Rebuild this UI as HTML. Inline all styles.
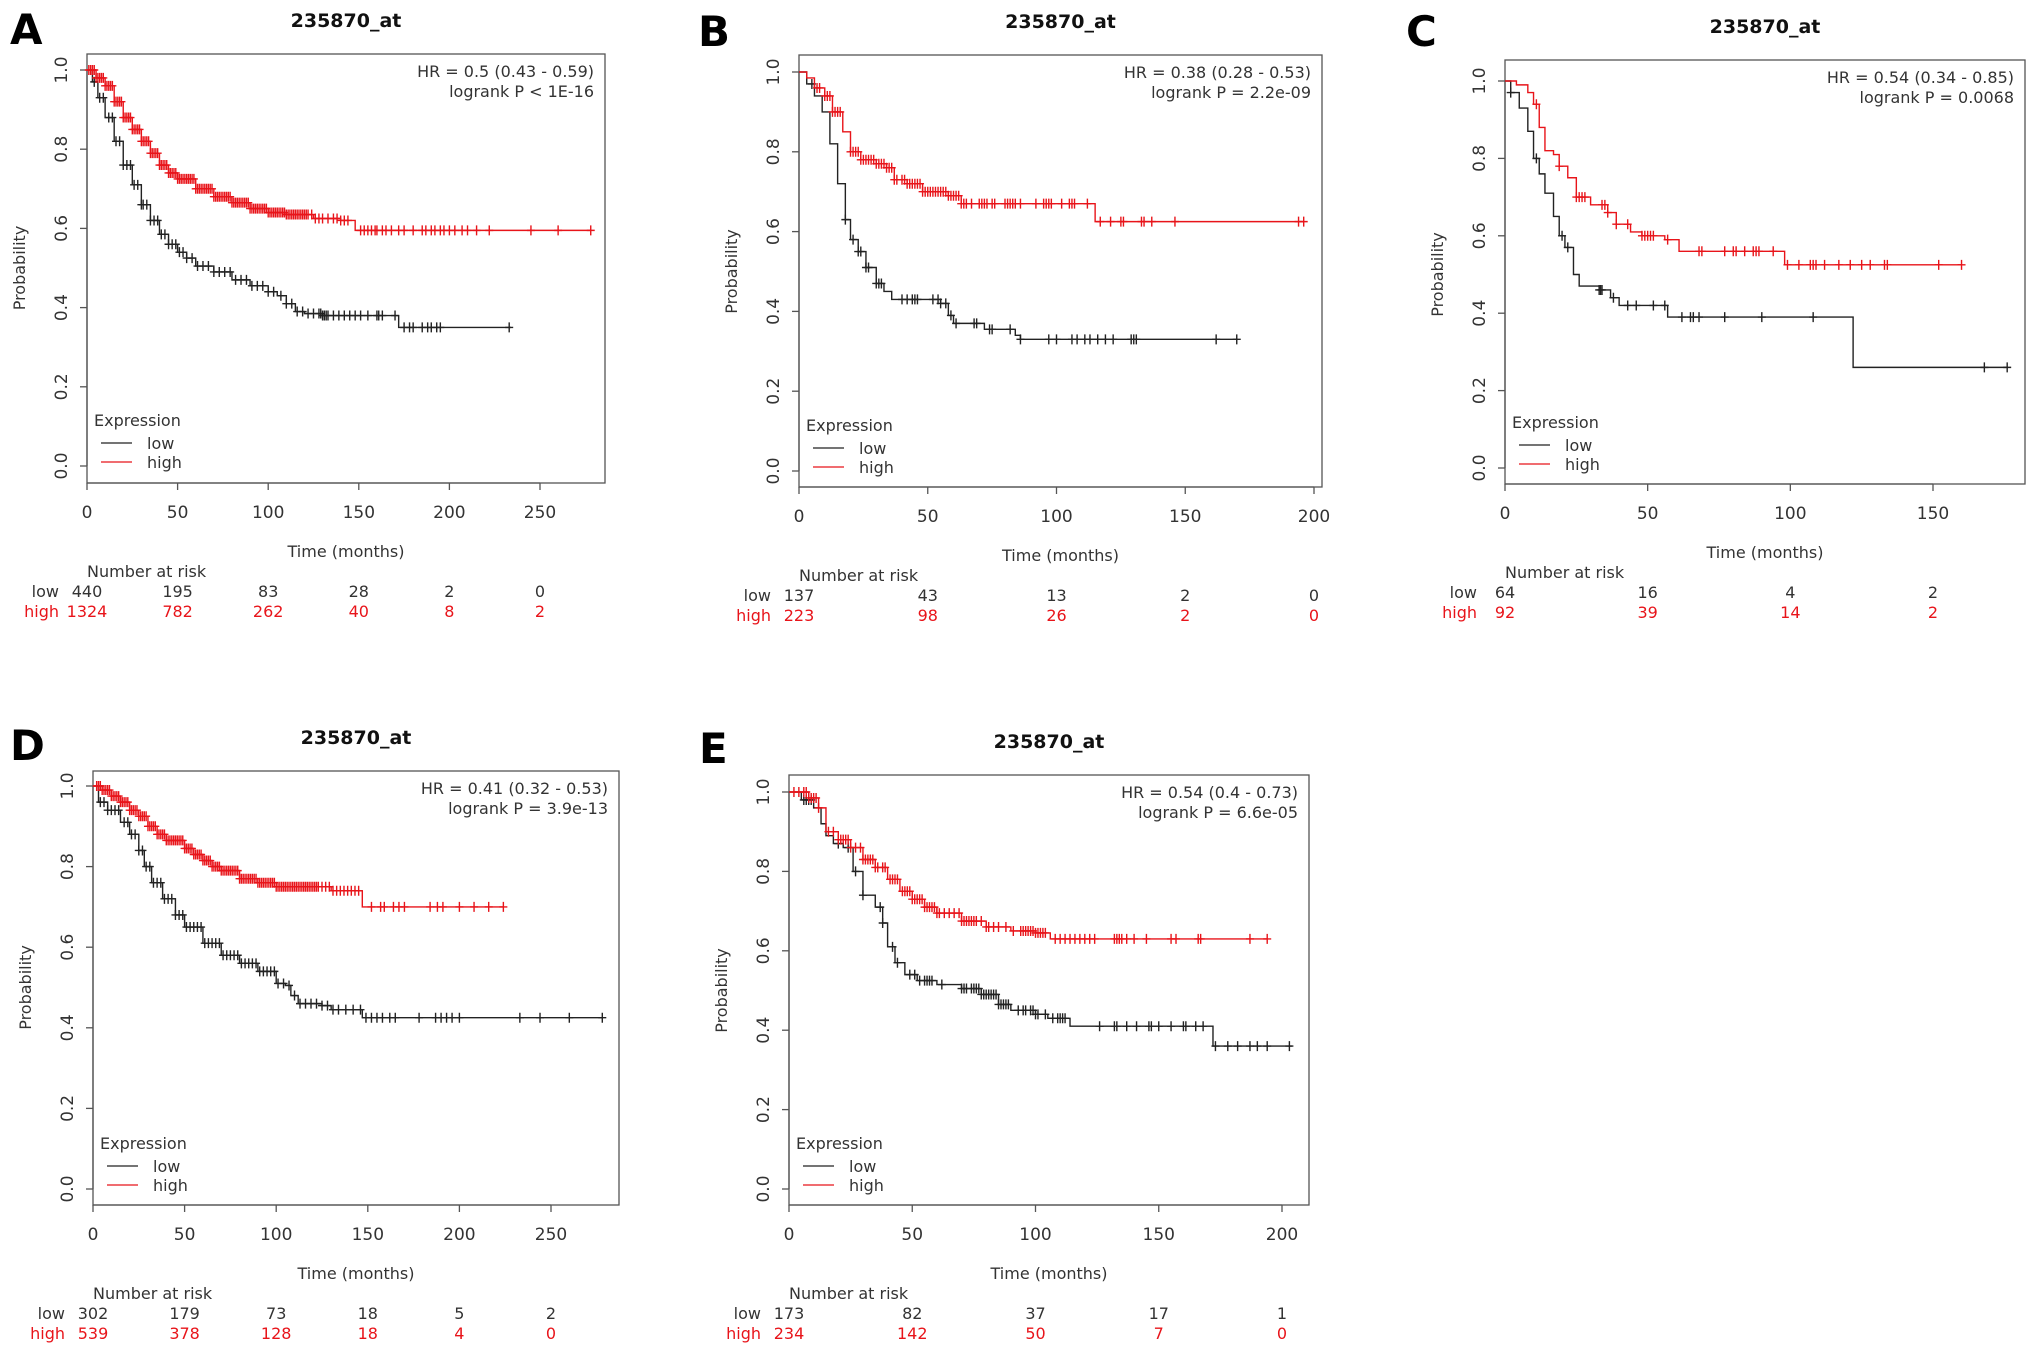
<!DOCTYPE html>
<html><head><meta charset="utf-8">
<style>
html,body{margin:0;padding:0;background:#fff;}
svg text{font-family:"DejaVu Sans","Liberation Sans",sans-serif;}
</style></head>
<body>
<svg id="fig" xmlns="http://www.w3.org/2000/svg" width="2031" height="1363" viewBox="0 0 2031 1363"></svg>
<script>
// ---------- Panel A data ----------
const aTicks = [0,50,100,150,200,250];
const aLowT = [0,3,6,10,15,20,25,30,35,40,45,50,55,60,70,80,90,100,105,110,115,120,130,172];
const aLowS = [1,0.97,0.93,0.88,0.82,0.76,0.71,0.66,0.62,0.585,0.56,0.54,0.525,0.505,0.49,0.47,0.455,0.44,0.43,0.41,0.39,0.385,0.38,0.35];
const aLowEnd = 234;
const aLowC = [4,7,9,12,14,16,18,20,22,24,26,28,30,31,33,35,37,39,41,43,45,47,49,51,53,55,58,61,64,67,70,73,76,79,82,85,88,91,94,97,100,103,107,110,113,116,119,122,125,128,129,130,131,132,133,136,139,142,145,148,151,155,160,161,163,170,175,178,180,185,188,190,193,195,233];
const aHighT = [0,5,10,15,20,25,30,35,40,45,50,60,70,80,90,100,110,125,140,148];
const aHighS = [1,0.98,0.96,0.92,0.88,0.85,0.82,0.79,0.76,0.74,0.725,0.70,0.68,0.665,0.65,0.64,0.635,0.625,0.62,0.595];
const aHighEnd = 278;
const aHighC = [1,2,3,4,5,6,7,8,9,10,11,12,13,14,15,16,17,18,19,20,21,22,23,24,25,26,27,28,29,30,31,32,33,34,35,36,37,38,39,40,41,42,43,44,45,46,47,48,49,50,51,52,53,54,55,56,57,58,59,60,61,62,63,64,65,66,67,68,69,70,71,72,73,74,75,76,77,78,79,80,81,82,83,84,85,86,87,88,89,90,91,92,93,94,95,96,97,98,99,100,101,102,103,104,105,106,107,108,109,110,111,112,113,114,115,116,117,118,119,120,121,122,124,126,128,130,133,136,138,140,142,144,151,153,155,157,159,160,163,165,168,172,175,180,185,187,190,192,195,197,200,203,207,210,215,222,245,260,278];
const aLowRisk = ["440","195","83","28","2","0"];
const aHighRisk = ["1324","782","262","40","8","2"];

// ---------- Panel B data ----------
const bTicks = [0,50,100,150,200];
const bLowT = [0,3,6,9,12,15,18,20,23,26,30,33,36,55,58,60,72,84,86];
const bLowS = [1,0.97,0.94,0.9,0.82,0.72,0.63,0.58,0.55,0.51,0.47,0.45,0.43,0.42,0.39,0.37,0.355,0.34,0.33];
const bLowEnd = 170;
const bLowC = [5,18,21,23,24,26,27,30,31,32,40,42,44,45,46,52,54,55,57,59,61,68,69,74,75,82,86,97,100,106,108,111,113,116,119,122,129,130,131,162,170];
const bHighT = [0,3,6,10,13,17,20,24,30,34,37,42,48,58,63,115];
const bHighS = [1,0.985,0.96,0.94,0.9,0.85,0.8,0.78,0.77,0.76,0.73,0.72,0.70,0.69,0.67,0.625];
const bHighEnd = 196;
const bHighC = [7,8,10,11,12,13,14,15,16,20,21,22,23,24,25,26,27,28,29,30,31,32,33,34,35,36,37,38,40,41,42,43,44,45,46,47,48,49,50,51,52,53,54,55,56,57,58,59,60,61,62,63,64,65,67,70,71,72,73,75,76,80,81,82,83,84,86,92,95,96,97,98,102,105,106,107,112,117,121,125,126,133,134,137,146,194,196];
const bLowRisk = ["137","43","13","2","0"];
const bHighRisk = ["223","98","26","2","0"];

// ---------- Panel C data ----------
const cTicks = [0,50,100,150];
const cLowT = [0,2,5,8,10,12,14,17,19,21,24,26,33,37,40,57,122];
const cLowS = [1,0.97,0.93,0.87,0.8,0.76,0.71,0.65,0.6,0.57,0.5,0.47,0.46,0.44,0.42,0.39,0.26];
const cLowEnd = 176;
const cLowC = [2,11,20,22,33,33.5,34,38,43,46,52,56,62,65,66,68,77,90,108,168,176];
const cHighT = [0,4,8,10,12,14,17,19,22,25,30,36,39,44,48,56,61,98];
const cHighS = [1,0.99,0.97,0.94,0.88,0.82,0.81,0.78,0.75,0.70,0.68,0.66,0.63,0.61,0.6,0.59,0.56,0.525];
const cHighEnd = 160;
const cHighC = [11,19,25,26,27,28,34,35,36,39,43,48,49,50,51,52,57,68,69,77,80,81,84,87,88,89,94,99,103,107,108,109,112,117,121,125,128,133,134,152,160];
const cLowRisk = ["64","16","4","2"];
const cHighRisk = ["92","39","14","2"];

// ---------- Panel D data ----------
const dTicks = [0,50,100,150,200,250];
const dLowT = [0,3,8,15,20,25,28,32,38,45,50,60,70,80,90,100,105,108,112,125,130,147];
const dLowS = [1,0.96,0.94,0.91,0.88,0.84,0.8,0.76,0.72,0.68,0.65,0.61,0.58,0.56,0.54,0.51,0.505,0.48,0.46,0.455,0.445,0.425];
const dLowEnd = 278;
const dLowC = [4,6,8,10,12,14,17,19,21,23,25,27,29,31,33,35,37,39,41,43,45,47,49,51,53,55,57,59,61,63,65,67,69,71,73,75,77,79,81,83,85,87,89,91,93,95,97,99,101,104,107,110,113,116,119,122,125,128,131,134,138,142,146,149,152,155,158,162,165,178,187,190,193,196,200,233,244,260,278];
const dHighT = [0,5,10,15,20,25,30,35,40,50,55,60,65,70,80,90,100,130,147];
const dHighS = [1,0.99,0.975,0.96,0.94,0.925,0.9,0.88,0.865,0.845,0.83,0.815,0.80,0.79,0.77,0.76,0.75,0.74,0.70];
const dHighEnd = 224;
const dHighC = [2,3,4,5,6,7,8,9,10,11,12,13,14,15,16,17,18,19,20,21,22,23,24,25,26,27,28,29,30,31,32,33,34,35,36,37,38,39,40,41,42,43,44,45,46,47,48,49,50,51,52,53,54,55,56,57,58,59,60,61,62,63,64,65,66,67,68,69,70,71,72,73,74,75,76,77,78,79,80,81,82,83,84,85,86,87,88,89,90,91,92,93,94,95,96,97,98,99,100,101,102,103,104,105,106,107,108,109,110,111,112,113,114,115,116,117,118,119,120,121,122,123,125,127,129,131,133,135,137,139,141,143,145,152,157,159,164,167,170,184,188,191,200,208,216,224];
const dLowRisk = ["302","179","73","18","5","2"];
const dHighRisk = ["539","378","128","18","4","0"];

// ---------- Panel E data ----------
const eTicks = [0,50,100,150,200];
const eLowT = [0,5,10,13,15,18,22,26,30,35,38,40,43,47,52,60,70,78,85,90,100,105,114,172];
const eLowS = [1,0.98,0.96,0.92,0.89,0.87,0.86,0.8,0.74,0.71,0.67,0.61,0.57,0.54,0.525,0.515,0.505,0.49,0.465,0.45,0.44,0.43,0.41,0.36];
const eLowEnd = 204;
const eLowC = [6,7,8,9,20,24,27,30,37,38,42,44,49,51,53,55,56,57,58,62,70,71,72,74,75,76,77,78,79,80,81,82,83,84,85,86,87,88,89,93,95,96,98,99,100,101,104,107,109,110,111,112,126,132,133,137,141,146,147,150,155,160,161,165,168,173,178,182,187,190,194,203];
const eHighT = [0,8,12,15,20,25,30,35,40,45,50,55,60,70,80,90,100,106];
const eHighS = [1,0.985,0.96,0.9,0.88,0.86,0.83,0.81,0.78,0.75,0.73,0.71,0.695,0.675,0.66,0.65,0.645,0.63];
const eHighEnd = 194;
const eHighC = [2,4,6,7,8,9,10,11,12,16,18,20,21,22,23,24,25,27,29,30,31,32,33,34,35,36,38,39,41,42,43,44,46,47,48,49,50,51,52,53,54,55,56,57,58,59,60,61,63,65,67,69,70,71,72,73,74,75,76,78,80,81,83,85,88,91,94,95,96,97,98,99,100,101,102,103,104,108,110,112,114,116,118,120,122,124,132,133,134,135,137,140,145,155,157,166,167,187,194];
const eLowRisk = ["173","82","37","17","1"];
const eHighRisk = ["234","142","50","7","0"];

const NS = "http://www.w3.org/2000/svg";
const svg = document.getElementById("fig");
const RED = "#e8141a", BLK = "#222";

function mk(tag, attrs, parent){
  const e = document.createElementNS(NS, tag);
  for (const k in attrs) e.setAttribute(k, attrs[k]);
  (parent||svg).appendChild(e);
  return e;
}
function txt(s, x, y, attrs, parent){
  const t = mk("text", Object.assign({x:x, y:y}, attrs), parent);
  t.textContent = s;
  return t;
}
function survAt(T, S, t){
  let v = S[0];
  for (let i=0;i<T.length;i++){ if (T[i] <= t) v = S[i]; }
  return v;
}

function panel(cfg){
  const g = mk("g", {});
  
  
  const xMax = cfg.ticks[cfg.ticks.length-1];
  const X = t => cfg.x0 + (t / xMax) * (cfg.xEnd - cfg.x0);
  const Y = s => cfg.y0 - s * (cfg.y0 - cfg.y1);

  const letter = txt(cfg.letter, cfg.lx, cfg.ly, {"font-size":42, "font-weight":"bold", fill:"#000", "font-family":"Liberation Sans, sans-serif"}, g);
  
  

  const title = txt("235870_at", (cfg.L+cfg.R)/2, cfg.T-27, {"font-size":19, "font-weight":"bold", "text-anchor":"middle", fill:"#111"}, g);
  
  

  const box = mk("rect", {x:cfg.L, y:cfg.T, width:cfg.R-cfg.L, height:cfg.B-cfg.T, fill:"none", stroke:"#555", "stroke-width":1.3}, g);
  
  

  const yt = [0,0.2,0.4,0.6,0.8,1.0];
  const yax = mk("g", {}, g);
  
  
  yt.forEach(v=>{
    mk("line", {x1:cfg.L, x2:cfg.L-7, y1:Y(v), y2:Y(v), stroke:"#555", "stroke-width":1.3}, yax);
    const lx = cfg.L-20, ly = Y(v);
    const t = txt(v.toFixed(1), lx, ly, {"font-size":17, "text-anchor":"middle", fill:"#333", transform:`rotate(-90 ${lx} ${ly})`}, yax);
    
    
  });
  mk("line", {x1:cfg.L, x2:cfg.L, y1:Y(0), y2:Y(1), stroke:"#555", "stroke-width":1.3}, yax);
  const yl = txt("Probability", cfg.L-62, (Y(0)+Y(1))/2, {"font-size":16, "text-anchor":"middle", fill:"#333", transform:`rotate(-90 ${cfg.L-62} ${(Y(0)+Y(1))/2})`}, g);
  
  

  const xax = mk("g", {}, g);
  
  
  mk("line", {x1:X(0), x2:X(xMax), y1:cfg.B, y2:cfg.B, stroke:"#555", "stroke-width":1.3}, xax);
  cfg.ticks.forEach(v=>{
    mk("line", {x1:X(v), x2:X(v), y1:cfg.B, y2:cfg.B+7, stroke:"#555", "stroke-width":1.3}, xax);
    const t = txt(String(v), X(v), cfg.B+35, {"font-size":17, "text-anchor":"middle", fill:"#333"}, xax);
    
    
  });
  const xl = txt("Time (months)", (cfg.L+cfg.R)/2, cfg.B+74, {"font-size":16, "text-anchor":"middle", fill:"#333"}, g);
  
  

  function curve(T, S, end, C, color, name){
    let d = `M${X(T[0])},${Y(S[0])}`;
    for (let i=1;i<T.length;i++){ d += ` H${X(T[i])} V${Y(S[i])}`; }
    d += ` H${X(end)}`;
    const p = mk("path", {d:d, fill:"none", stroke:color, "stroke-width":1.4}, g);
    
    
    const cg = mk("g", {stroke:color, "stroke-width":1.4}, g);
    
    
    C.forEach(t=>{
      const x = X(t), y = Y(survAt(T,S,t));
      mk("path", {d:`M${x-4},${y} H${x+4} M${x},${y-5} V${y+5}`}, cg);
    });
  }
  curve(cfg.lowT, cfg.lowS, cfg.lowEnd, cfg.lowC, BLK, "low");
  curve(cfg.highT, cfg.highS, cfg.highEnd, cfg.highC, RED, "high");

  const hr = txt(cfg.hr, cfg.R-11, cfg.T+23, {"font-size":16, "text-anchor":"end", fill:"#333"}, g);
  
  
  const lp = txt(cfg.p, cfg.R-11, cfg.T+43, {"font-size":16, "text-anchor":"end", fill:"#333"}, g);
  
  

  const lg = mk("g", {}, g);
  
  
  txt("Expression", cfg.L+7, Y(0)-40, {"font-size":16, fill:"#333"}, lg);
  mk("line", {x1:cfg.L+14, x2:cfg.L+45, y1:Y(0)-23, y2:Y(0)-23, stroke:BLK, "stroke-width":1.3}, lg);
  const le1 = txt("low", cfg.L+60, Y(0)-17, {"font-size":16, fill:"#333"}, lg);
  
  
  mk("line", {x1:cfg.L+14, x2:cfg.L+45, y1:Y(0)-4, y2:Y(0)-4, stroke:RED, "stroke-width":1.3}, lg);
  const le2 = txt("high", cfg.L+60, Y(0)+2, {"font-size":16, fill:"#333"}, lg);
  
  

  const rt = mk("g", {}, g);
  
  
  txt("Number at risk", cfg.L, cfg.B+94, {"font-size":16, fill:"#333"}, rt);
  txt("low", cfg.L-28, cfg.B+114, {"font-size":16, "text-anchor":"end", fill:"#333"}, rt);
  txt("high", cfg.L-28, cfg.B+134, {"font-size":16, "text-anchor":"end", fill:RED}, rt);
  cfg.ticks.forEach((v,i)=>{
    txt(cfg.lowRisk[i], X(v), cfg.B+114, {"font-size":16, "text-anchor":"middle", fill:"#333"}, rt);
    txt(cfg.highRisk[i], X(v), cfg.B+134, {"font-size":16, "text-anchor":"middle", fill:RED}, rt);
  });
}

panel({letter:"A", lx:10, ly:44, L:87, R:605, T:54, B:483, x0:87, xEnd:540, y1:70, y0:466, ticks:aTicks,
  lowT:aLowT, lowS:aLowS, lowEnd:aLowEnd, lowC:aLowC, highT:aHighT, highS:aHighS, highEnd:aHighEnd, highC:aHighC,
  lowRisk:aLowRisk, highRisk:aHighRisk, hr:"HR = 0.5 (0.43 - 0.59)", p:"logrank P < 1E-16"});
panel({letter:"B", lx:698, ly:46, L:799, R:1322, T:55, B:487, x0:799, xEnd:1314, y1:72, y0:471, ticks:bTicks,
  lowT:bLowT, lowS:bLowS, lowEnd:bLowEnd, lowC:bLowC, highT:bHighT, highS:bHighS, highEnd:bHighEnd, highC:bHighC,
  lowRisk:bLowRisk, highRisk:bHighRisk, hr:"HR = 0.38 (0.28 - 0.53)", p:"logrank P = 2.2e-09"});
panel({letter:"C", lx:1406, ly:46, L:1505, R:2025, T:60, B:484, x0:1505, xEnd:1933, y1:81, y0:468, ticks:cTicks,
  lowT:cLowT, lowS:cLowS, lowEnd:cLowEnd, lowC:cLowC, highT:cHighT, highS:cHighS, highEnd:cHighEnd, highC:cHighC,
  lowRisk:cLowRisk, highRisk:cHighRisk, hr:"HR = 0.54 (0.34 - 0.85)", p:"logrank P = 0.0068"});
panel({letter:"D", lx:10, ly:760, L:93, R:619, T:771, B:1205, x0:93, xEnd:551, y1:786, y0:1189, ticks:dTicks,
  lowT:dLowT, lowS:dLowS, lowEnd:dLowEnd, lowC:dLowC, highT:dHighT, highS:dHighS, highEnd:dHighEnd, highC:dHighC,
  lowRisk:dLowRisk, highRisk:dHighRisk, hr:"HR = 0.41 (0.32 - 0.53)", p:"logrank P = 3.9e-13"});
panel({letter:"E", lx:699, ly:763, L:789, R:1309, T:775, B:1205, x0:789, xEnd:1282, y1:792, y0:1189, ticks:eTicks,
  lowT:eLowT, lowS:eLowS, lowEnd:eLowEnd, lowC:eLowC, highT:eHighT, highS:eHighS, highEnd:eHighEnd, highC:eHighC,
  lowRisk:eLowRisk, highRisk:eHighRisk, hr:"HR = 0.54 (0.4 - 0.73)", p:"logrank P = 6.6e-05"});
</script>
</body></html>
